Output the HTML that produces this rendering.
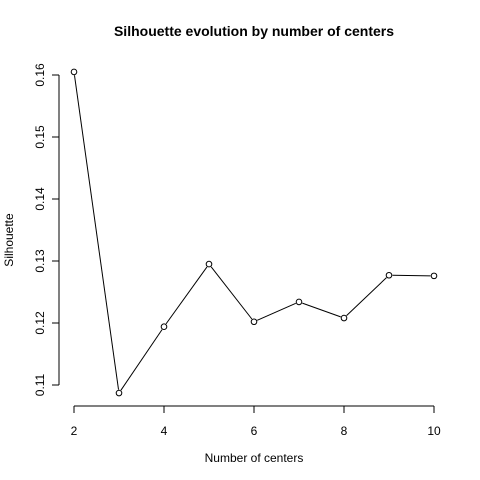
<!DOCTYPE html>
<html><head><meta charset="utf-8"><style>
body{margin:0;background:#fff}
svg{display:block;font-family:"Liberation Sans",Arial,sans-serif}
</style></head><body>
<svg id="chart" width="480" height="480" viewBox="0 0 480 480">
<rect width="480" height="480" fill="#fff"/>
<text x="254" y="36" text-anchor="middle" font-size="14" font-weight="bold">Silhouette evolution by number of centers</text>
<text x="254" y="462" text-anchor="middle" font-size="12">Number of centers</text>
<text transform="translate(13,240) rotate(-90)" text-anchor="middle" font-size="12">Silhouette</text>
<g id="axes"></g>
<g id="marks"></g>
</svg>
<script>
const centers=[2,3,4,5,6,7,8,9,10];
const silhouette=[0.1605,0.1087,0.1194,0.1295,0.1202,0.1234,0.1208,0.1277,0.1276];
const xTicks=[2,4,6,8,10];
const yTicks=[0.11,0.12,0.13,0.14,0.15,0.16];
const NS="http://www.w3.org/2000/svg";
function sx(v){return 74+(v-2)*45;}
function sy(v){return 385-(v-0.11)*6200;}
function mk(tag,attrs,parent){const e=document.createElementNS(NS,tag);for(const k in attrs)e.setAttribute(k,attrs[k]);parent.appendChild(e);return e;}
const axes=document.getElementById('axes'),marks=document.getElementById('marks');
let xl=mk('line',{x1:sx(xTicks[0]),x2:sx(xTicks[xTicks.length-1]),y1:406,y2:406,stroke:'#000'},axes);


xTicks.forEach(t=>{
 let l=mk('line',{x1:sx(t),x2:sx(t),y1:406,y2:413,stroke:'#000'},axes);
 
 
 let tx=mk('text',{x:sx(t),y:435,'text-anchor':'middle','font-size':12},axes);tx.textContent=t;
 
 
});
let yl=mk('line',{x1:59,x2:59,y1:sy(yTicks[0]),y2:sy(yTicks[yTicks.length-1]),stroke:'#000'},axes);


yTicks.forEach(t=>{
 let l=mk('line',{x1:52,x2:59,y1:sy(t),y2:sy(t),stroke:'#000'},axes);
 
 
 let tx=mk('text',{transform:`translate(44,${sy(t)}) rotate(-90)`,'text-anchor':'middle','font-size':12},axes);tx.textContent=t.toFixed(2);
 
 
});
for(let i=0;i<centers.length-1;i++){
 const x1=sx(centers[i]),y1=sy(silhouette[i]),x2=sx(centers[i+1]),y2=sy(silhouette[i+1]);
 const d=Math.hypot(x2-x1,y2-y1),r=3.5;
 let s=mk('line',{x1:x1+(x2-x1)*r/d,y1:y1+(y2-y1)*r/d,x2:x2-(x2-x1)*r/d,y2:y2-(y2-y1)*r/d,stroke:'#000'},marks);
 
 
}
centers.forEach((c,i)=>{
 let p=mk('circle',{cx:sx(c),cy:sy(silhouette[i]),r:2.8,fill:'none',stroke:'#000'},marks);
 
 
});
</script>
</body></html>
